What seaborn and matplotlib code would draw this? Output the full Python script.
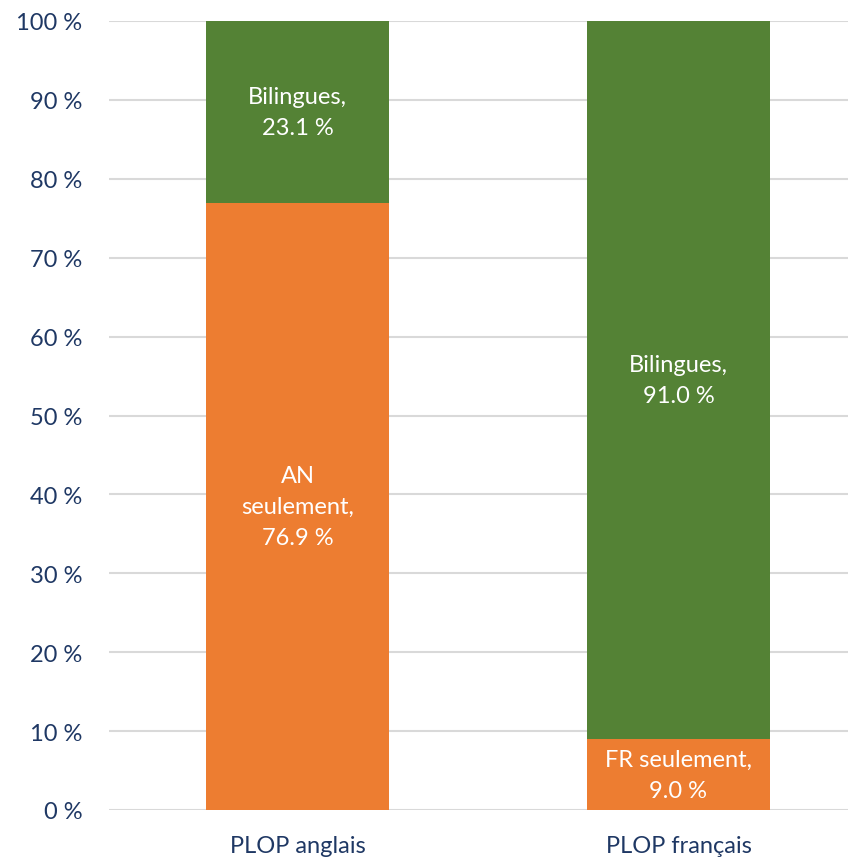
import matplotlib
matplotlib.use("Agg")
import matplotlib.pyplot as plt
import seaborn as sns
import pandas as pd

categories = ["PLOP anglais", "PLOP français"]
seulement = [76.9, 9.0]
bilingues = [23.1, 91.0]
seul_labels = ["AN\nseulement,\n76.9 %", "FR seulement,\n9.0 %"]
bil_labels = ["Bilingues,\n23.1 %", "Bilingues,\n91.0 %"]
yticks = [0, 10, 20, 30, 40, 50, 60, 70, 80, 90, 100]

ORANGE = "#ED7D31"
GREEN = "#548235"
NAVY = "#1F3864"

sns.set_style("white")
plt.rcParams["font.family"] = ["Lato", "DejaVu Sans"]

df = pd.DataFrame({"cat": categories, "seul": seulement, "bil": bilingues})
df["total"] = df["seul"] + df["bil"]

fig = plt.figure(figsize=(8.48, 8.62), dpi=100)
ax = fig.add_axes([109 / 848, 1 - 811 / 862, 1 - 109 / 848, (811 - 22) / 862])

sns.barplot(data=df, x="cat", y="total", color=GREEN, saturation=1, width=0.48,
            linewidth=0, ax=ax, zorder=2)
sns.barplot(data=df, x="cat", y="seul", color=ORANGE, saturation=1, width=0.48,
            linewidth=0, ax=ax, zorder=3)

for i in range(len(categories)):
    ax.text(i, seulement[i] / 2, seul_labels[i], ha="center", va="center",
            color="white", fontsize=17, linespacing=1.6, zorder=5)
    ax.text(i, seulement[i] + bilingues[i] / 2, bil_labels[i], ha="center", va="center",
            color="white", fontsize=17, linespacing=1.6, zorder=5)

ax.set_ylim(0, 100)
ax.set_xlim(-0.495, 1.445)
ax.set_yticks(yticks)
ax.set_yticklabels([f"{t} %" for t in yticks])
ax.yaxis.grid(True, color="#D9D9D9", linewidth=1.5, zorder=0)
ax.set_axisbelow(True)
for s in ax.spines.values():
    s.set_visible(False)
ax.set_xlabel("")
ax.set_ylabel("")
ax.tick_params(axis="both", length=0, labelsize=17, labelcolor=NAVY)
ax.tick_params(axis="y", pad=19)
ax.tick_params(axis="x", pad=18)

fig.savefig("out.png", dpi=100)
